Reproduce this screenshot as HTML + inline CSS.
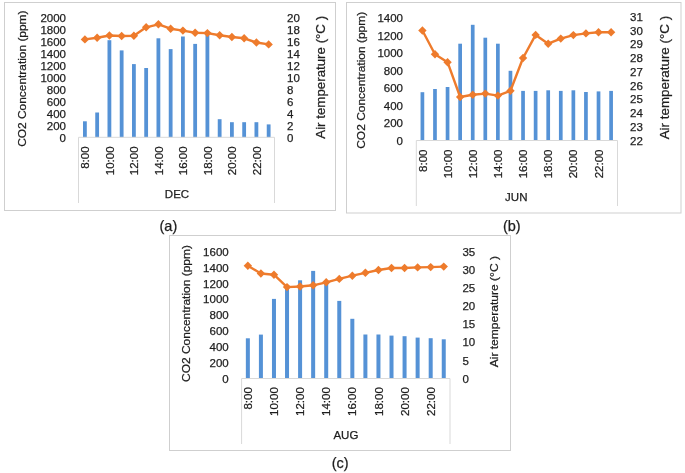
<!DOCTYPE html>
<html><head><meta charset="utf-8"><title>CO2 and temperature charts</title>
<style>
html,body{margin:0;padding:0;background:#fff;}
body{width:685px;height:473px;overflow:hidden;}
svg{display:block;will-change:transform;}
text{font-family:"Liberation Sans", sans-serif;fill:#1e1e1e;font-size:11.5px;stroke:#1e1e1e;stroke-width:0.25px;}
</style></head><body>
<svg width="685" height="473" viewBox="0 0 685 473">
<rect x="0" y="0" width="685" height="473" fill="#ffffff"/>
<rect x="4.5" y="2.5" width="331" height="208" fill="none" stroke="#cfcfcf" stroke-width="1"/>
<rect x="83" y="121.3" width="3.8" height="16" fill="#5592D6"/>
<rect x="95.25" y="112.5" width="3.8" height="24.8" fill="#5592D6"/>
<rect x="107.5" y="40.2" width="3.8" height="97.1" fill="#5592D6"/>
<rect x="119.75" y="50.4" width="3.8" height="86.9" fill="#5592D6"/>
<rect x="132" y="64.1" width="3.8" height="73.2" fill="#5592D6"/>
<rect x="144.25" y="68" width="3.8" height="69.3" fill="#5592D6"/>
<rect x="156.5" y="38.3" width="3.8" height="99" fill="#5592D6"/>
<rect x="168.75" y="49.1" width="3.8" height="88.2" fill="#5592D6"/>
<rect x="181" y="36.5" width="3.8" height="100.8" fill="#5592D6"/>
<rect x="193.25" y="43.9" width="3.8" height="93.4" fill="#5592D6"/>
<rect x="205.5" y="34.8" width="3.8" height="102.5" fill="#5592D6"/>
<rect x="217.75" y="119.2" width="3.8" height="18.1" fill="#5592D6"/>
<rect x="230" y="122.2" width="3.8" height="15.1" fill="#5592D6"/>
<rect x="242.25" y="122.2" width="3.8" height="15.1" fill="#5592D6"/>
<rect x="254.5" y="122.2" width="3.8" height="15.1" fill="#5592D6"/>
<rect x="266.75" y="124.4" width="3.8" height="12.9" fill="#5592D6"/>
<path d="M78.5 137.3H274.5M78.5 137.3V203M274.5 137.3V203" stroke="#d9d9d9" stroke-width="1" fill="none"/>
<path d="M84.9 39.4 L97.15 37.7 L109.4 35.5 L121.65 36 L133.9 35.7 L146.15 27.3 L158.4 24.3 L170.65 28.7 L182.9 30.6 L195.15 32.7 L207.4 33.1 L219.65 35.3 L231.9 37 L244.15 38.3 L256.4 42.5 L268.65 44.4" stroke="#EE7B2C" stroke-width="2.4" fill="none" stroke-linejoin="round" stroke-linecap="round"/>
<path d="M84.9 35.2L89.1 39.4L84.9 43.6L80.7 39.4Z" fill="#EE7B2C"/>
<path d="M97.15 33.5L101.35 37.7L97.15 41.9L92.95 37.7Z" fill="#EE7B2C"/>
<path d="M109.4 31.3L113.6 35.5L109.4 39.7L105.2 35.5Z" fill="#EE7B2C"/>
<path d="M121.65 31.8L125.85 36L121.65 40.2L117.45 36Z" fill="#EE7B2C"/>
<path d="M133.9 31.5L138.1 35.7L133.9 39.9L129.7 35.7Z" fill="#EE7B2C"/>
<path d="M146.15 23.1L150.35 27.3L146.15 31.5L141.95 27.3Z" fill="#EE7B2C"/>
<path d="M158.4 20.1L162.6 24.3L158.4 28.5L154.2 24.3Z" fill="#EE7B2C"/>
<path d="M170.65 24.5L174.85 28.7L170.65 32.9L166.45 28.7Z" fill="#EE7B2C"/>
<path d="M182.9 26.4L187.1 30.6L182.9 34.8L178.7 30.6Z" fill="#EE7B2C"/>
<path d="M195.15 28.5L199.35 32.7L195.15 36.9L190.95 32.7Z" fill="#EE7B2C"/>
<path d="M207.4 28.9L211.6 33.1L207.4 37.3L203.2 33.1Z" fill="#EE7B2C"/>
<path d="M219.65 31.1L223.85 35.3L219.65 39.5L215.45 35.3Z" fill="#EE7B2C"/>
<path d="M231.9 32.8L236.1 37L231.9 41.2L227.7 37Z" fill="#EE7B2C"/>
<path d="M244.15 34.1L248.35 38.3L244.15 42.5L239.95 38.3Z" fill="#EE7B2C"/>
<path d="M256.4 38.3L260.6 42.5L256.4 46.7L252.2 42.5Z" fill="#EE7B2C"/>
<path d="M268.65 40.2L272.85 44.4L268.65 48.6L264.45 44.4Z" fill="#EE7B2C"/>
<text x="66" y="141.82" text-anchor="end">0</text>
<text x="66" y="129.83" text-anchor="end">200</text>
<text x="66" y="117.84" text-anchor="end">400</text>
<text x="66" y="105.85" text-anchor="end">600</text>
<text x="66" y="93.86" text-anchor="end">800</text>
<text x="66" y="81.87" text-anchor="end">1000</text>
<text x="66" y="69.88" text-anchor="end">1200</text>
<text x="66" y="57.89" text-anchor="end">1400</text>
<text x="66" y="45.9" text-anchor="end">1600</text>
<text x="66" y="33.91" text-anchor="end">1800</text>
<text x="66" y="21.92" text-anchor="end">2000</text>
<text x="287" y="141.82">0</text>
<text x="287" y="129.83">2</text>
<text x="287" y="117.84">4</text>
<text x="287" y="105.85">6</text>
<text x="287" y="93.86">8</text>
<text x="287" y="81.87">10</text>
<text x="287" y="69.88">12</text>
<text x="287" y="57.89">14</text>
<text x="287" y="45.9">16</text>
<text x="287" y="33.91">18</text>
<text x="287" y="21.92">20</text>
<text transform="translate(26 146.8) rotate(-90)" x="0" y="0" style="font-size:11.6px" textLength="136.3" lengthAdjust="spacingAndGlyphs">CO2 Concentration (ppm)</text>
<text transform="translate(324.6 138.7) rotate(-90)" x="0" y="0" style="font-size:12.8px" textLength="122.8" lengthAdjust="spacingAndGlyphs">Air temperature (°C )</text>
<text transform="translate(89.02 146.4) rotate(-90)" x="0" y="0" text-anchor="end" style="font-size:11.5px">8:00</text>
<text transform="translate(113.52 146.4) rotate(-90)" x="0" y="0" text-anchor="end" style="font-size:11.5px">10:00</text>
<text transform="translate(138.02 146.4) rotate(-90)" x="0" y="0" text-anchor="end" style="font-size:11.5px">12:00</text>
<text transform="translate(162.52 146.4) rotate(-90)" x="0" y="0" text-anchor="end" style="font-size:11.5px">14:00</text>
<text transform="translate(187.02 146.4) rotate(-90)" x="0" y="0" text-anchor="end" style="font-size:11.5px">16:00</text>
<text transform="translate(211.52 146.4) rotate(-90)" x="0" y="0" text-anchor="end" style="font-size:11.5px">18:00</text>
<text transform="translate(236.02 146.4) rotate(-90)" x="0" y="0" text-anchor="end" style="font-size:11.5px">20:00</text>
<text transform="translate(260.52 146.4) rotate(-90)" x="0" y="0" text-anchor="end" style="font-size:11.5px">22:00</text>
<text x="177" y="198.1" text-anchor="middle" style="font-size:11.5px">DEC</text>
<rect x="346.5" y="2.5" width="334.5" height="210.5" fill="none" stroke="#cfcfcf" stroke-width="1"/>
<rect x="420.55" y="92.2" width="3.7" height="48.3" fill="#5592D6"/>
<rect x="433.13" y="89" width="3.7" height="51.5" fill="#5592D6"/>
<rect x="445.71" y="87" width="3.7" height="53.5" fill="#5592D6"/>
<rect x="458.29" y="43.7" width="3.7" height="96.8" fill="#5592D6"/>
<rect x="470.87" y="24.8" width="3.7" height="115.7" fill="#5592D6"/>
<rect x="483.45" y="37.7" width="3.7" height="102.8" fill="#5592D6"/>
<rect x="496.03" y="43.7" width="3.7" height="96.8" fill="#5592D6"/>
<rect x="508.61" y="70.8" width="3.7" height="69.7" fill="#5592D6"/>
<rect x="521.19" y="90.9" width="3.7" height="49.6" fill="#5592D6"/>
<rect x="533.77" y="90.9" width="3.7" height="49.6" fill="#5592D6"/>
<rect x="546.35" y="90.3" width="3.7" height="50.2" fill="#5592D6"/>
<rect x="558.93" y="90.9" width="3.7" height="49.6" fill="#5592D6"/>
<rect x="571.51" y="90.3" width="3.7" height="50.2" fill="#5592D6"/>
<rect x="584.09" y="92" width="3.7" height="48.5" fill="#5592D6"/>
<rect x="596.67" y="91.4" width="3.7" height="49.1" fill="#5592D6"/>
<rect x="609.25" y="90.9" width="3.7" height="49.6" fill="#5592D6"/>
<path d="M416.3 140.5H617.5M416.3 140.5V206M617.5 140.5V206" stroke="#d9d9d9" stroke-width="1" fill="none"/>
<path d="M422.4 30.5 L434.98 54.2 L447.56 62.2 L460.14 97 L472.72 94.7 L485.3 93.6 L497.88 95.6 L510.46 90.8 L523.04 58 L535.62 34.9 L548.2 43.7 L560.78 38.6 L573.36 35.1 L585.94 33.4 L598.52 32.3 L611.1 32.3" stroke="#EE7B2C" stroke-width="2.4" fill="none" stroke-linejoin="round" stroke-linecap="round"/>
<path d="M422.4 26.3L426.6 30.5L422.4 34.7L418.2 30.5Z" fill="#EE7B2C"/>
<path d="M434.98 50L439.18 54.2L434.98 58.4L430.78 54.2Z" fill="#EE7B2C"/>
<path d="M447.56 58L451.76 62.2L447.56 66.4L443.36 62.2Z" fill="#EE7B2C"/>
<path d="M460.14 92.8L464.34 97L460.14 101.2L455.94 97Z" fill="#EE7B2C"/>
<path d="M472.72 90.5L476.92 94.7L472.72 98.9L468.52 94.7Z" fill="#EE7B2C"/>
<path d="M485.3 89.4L489.5 93.6L485.3 97.8L481.1 93.6Z" fill="#EE7B2C"/>
<path d="M497.88 91.4L502.08 95.6L497.88 99.8L493.68 95.6Z" fill="#EE7B2C"/>
<path d="M510.46 86.6L514.66 90.8L510.46 95L506.26 90.8Z" fill="#EE7B2C"/>
<path d="M523.04 53.8L527.24 58L523.04 62.2L518.84 58Z" fill="#EE7B2C"/>
<path d="M535.62 30.7L539.82 34.9L535.62 39.1L531.42 34.9Z" fill="#EE7B2C"/>
<path d="M548.2 39.5L552.4 43.7L548.2 47.9L544 43.7Z" fill="#EE7B2C"/>
<path d="M560.78 34.4L564.98 38.6L560.78 42.8L556.58 38.6Z" fill="#EE7B2C"/>
<path d="M573.36 30.9L577.56 35.1L573.36 39.3L569.16 35.1Z" fill="#EE7B2C"/>
<path d="M585.94 29.2L590.14 33.4L585.94 37.6L581.74 33.4Z" fill="#EE7B2C"/>
<path d="M598.52 28.1L602.72 32.3L598.52 36.5L594.32 32.3Z" fill="#EE7B2C"/>
<path d="M611.1 28.1L615.3 32.3L611.1 36.5L606.9 32.3Z" fill="#EE7B2C"/>
<text x="403" y="144.72" text-anchor="end">0</text>
<text x="403" y="127.19" text-anchor="end">200</text>
<text x="403" y="109.66" text-anchor="end">400</text>
<text x="403" y="92.13" text-anchor="end">600</text>
<text x="403" y="74.6" text-anchor="end">800</text>
<text x="403" y="57.07" text-anchor="end">1000</text>
<text x="403" y="39.55" text-anchor="end">1200</text>
<text x="403" y="22.02" text-anchor="end">1400</text>
<text x="630" y="144.52">22</text>
<text x="630" y="130.79">23</text>
<text x="630" y="117.07">24</text>
<text x="630" y="103.35">25</text>
<text x="630" y="89.63">26</text>
<text x="630" y="75.91">27</text>
<text x="630" y="62.18">28</text>
<text x="630" y="48.46">29</text>
<text x="630" y="34.74">30</text>
<text x="630" y="21.02">31</text>
<text transform="translate(365.2 148.8) rotate(-90)" x="0" y="0" style="font-size:11.6px" textLength="137" lengthAdjust="spacingAndGlyphs">CO2 Concentration (ppm)</text>
<text transform="translate(669 139.3) rotate(-90)" x="0" y="0" style="font-size:12.8px" textLength="123.4" lengthAdjust="spacingAndGlyphs">Air temperature (°C )</text>
<text transform="translate(426.52 149.5) rotate(-90)" x="0" y="0" text-anchor="end" style="font-size:11.5px">8:00</text>
<text transform="translate(451.68 149.5) rotate(-90)" x="0" y="0" text-anchor="end" style="font-size:11.5px">10:00</text>
<text transform="translate(476.84 149.5) rotate(-90)" x="0" y="0" text-anchor="end" style="font-size:11.5px">12:00</text>
<text transform="translate(502 149.5) rotate(-90)" x="0" y="0" text-anchor="end" style="font-size:11.5px">14:00</text>
<text transform="translate(527.16 149.5) rotate(-90)" x="0" y="0" text-anchor="end" style="font-size:11.5px">16:00</text>
<text transform="translate(552.32 149.5) rotate(-90)" x="0" y="0" text-anchor="end" style="font-size:11.5px">18:00</text>
<text transform="translate(577.48 149.5) rotate(-90)" x="0" y="0" text-anchor="end" style="font-size:11.5px">20:00</text>
<text transform="translate(602.64 149.5) rotate(-90)" x="0" y="0" text-anchor="end" style="font-size:11.5px">22:00</text>
<text x="516.3" y="201.1" text-anchor="middle" style="font-size:11.5px">JUN</text>
<rect x="169.5" y="235.5" width="341" height="215" fill="none" stroke="#cfcfcf" stroke-width="1"/>
<rect x="245.85" y="338.3" width="4" height="40.2" fill="#5592D6"/>
<rect x="258.91" y="334.6" width="4" height="43.9" fill="#5592D6"/>
<rect x="271.97" y="298.9" width="4" height="79.6" fill="#5592D6"/>
<rect x="285.03" y="287.3" width="4" height="91.2" fill="#5592D6"/>
<rect x="298.09" y="280.3" width="4" height="98.2" fill="#5592D6"/>
<rect x="311.15" y="270.9" width="4" height="107.6" fill="#5592D6"/>
<rect x="324.21" y="283.4" width="4" height="95.1" fill="#5592D6"/>
<rect x="337.27" y="300.9" width="4" height="77.6" fill="#5592D6"/>
<rect x="350.33" y="318.8" width="4" height="59.7" fill="#5592D6"/>
<rect x="363.39" y="334.5" width="4" height="44" fill="#5592D6"/>
<rect x="376.45" y="334.5" width="4" height="44" fill="#5592D6"/>
<rect x="389.51" y="335.6" width="4" height="42.9" fill="#5592D6"/>
<rect x="402.57" y="336.2" width="4" height="42.3" fill="#5592D6"/>
<rect x="415.63" y="337.6" width="4" height="40.9" fill="#5592D6"/>
<rect x="428.69" y="338.2" width="4" height="40.3" fill="#5592D6"/>
<rect x="441.75" y="339.3" width="4" height="39.2" fill="#5592D6"/>
<path d="M241.6 378.5H450M241.6 378.5V444M450 378.5V444" stroke="#d9d9d9" stroke-width="1" fill="none"/>
<path d="M247.85 265.7 L260.91 273.5 L273.97 274.7 L287.03 287.1 L300.09 286.5 L313.15 285.3 L326.21 282.3 L339.27 278.9 L352.33 275.7 L365.39 272.8 L378.45 270 L391.51 268 L404.57 268 L417.63 267.4 L430.69 267.1 L443.75 266.6" stroke="#EE7B2C" stroke-width="2.4" fill="none" stroke-linejoin="round" stroke-linecap="round"/>
<path d="M247.85 261.5L252.05 265.7L247.85 269.9L243.65 265.7Z" fill="#EE7B2C"/>
<path d="M260.91 269.3L265.11 273.5L260.91 277.7L256.71 273.5Z" fill="#EE7B2C"/>
<path d="M273.97 270.5L278.17 274.7L273.97 278.9L269.77 274.7Z" fill="#EE7B2C"/>
<path d="M287.03 282.9L291.23 287.1L287.03 291.3L282.83 287.1Z" fill="#EE7B2C"/>
<path d="M300.09 282.3L304.29 286.5L300.09 290.7L295.89 286.5Z" fill="#EE7B2C"/>
<path d="M313.15 281.1L317.35 285.3L313.15 289.5L308.95 285.3Z" fill="#EE7B2C"/>
<path d="M326.21 278.1L330.41 282.3L326.21 286.5L322.01 282.3Z" fill="#EE7B2C"/>
<path d="M339.27 274.7L343.47 278.9L339.27 283.1L335.07 278.9Z" fill="#EE7B2C"/>
<path d="M352.33 271.5L356.53 275.7L352.33 279.9L348.13 275.7Z" fill="#EE7B2C"/>
<path d="M365.39 268.6L369.59 272.8L365.39 277L361.19 272.8Z" fill="#EE7B2C"/>
<path d="M378.45 265.8L382.65 270L378.45 274.2L374.25 270Z" fill="#EE7B2C"/>
<path d="M391.51 263.8L395.71 268L391.51 272.2L387.31 268Z" fill="#EE7B2C"/>
<path d="M404.57 263.8L408.77 268L404.57 272.2L400.37 268Z" fill="#EE7B2C"/>
<path d="M417.63 263.2L421.83 267.4L417.63 271.6L413.43 267.4Z" fill="#EE7B2C"/>
<path d="M430.69 262.9L434.89 267.1L430.69 271.3L426.49 267.1Z" fill="#EE7B2C"/>
<path d="M443.75 262.4L447.95 266.6L443.75 270.8L439.55 266.6Z" fill="#EE7B2C"/>
<text x="228.7" y="382.72" text-anchor="end">0</text>
<text x="228.7" y="366.85" text-anchor="end">200</text>
<text x="228.7" y="350.99" text-anchor="end">400</text>
<text x="228.7" y="335.13" text-anchor="end">600</text>
<text x="228.7" y="319.27" text-anchor="end">800</text>
<text x="228.7" y="303.4" text-anchor="end">1000</text>
<text x="228.7" y="287.54" text-anchor="end">1200</text>
<text x="228.7" y="271.68" text-anchor="end">1400</text>
<text x="228.7" y="255.82" text-anchor="end">1600</text>
<text x="462.4" y="382.72">0</text>
<text x="462.4" y="364.6">5</text>
<text x="462.4" y="346.49">10</text>
<text x="462.4" y="328.37">15</text>
<text x="462.4" y="310.26">20</text>
<text x="462.4" y="292.15">25</text>
<text x="462.4" y="274.03">30</text>
<text x="462.4" y="255.92">35</text>
<text transform="translate(189.6 381.9) rotate(-90)" x="0" y="0" style="font-size:11.6px" textLength="136.8" lengthAdjust="spacingAndGlyphs">CO2 Concentration (ppm)</text>
<text transform="translate(497.8 367.3) rotate(-90)" x="0" y="0" style="font-size:11.6px" textLength="111.3" lengthAdjust="spacingAndGlyphs">Air temperature (°C )</text>
<text transform="translate(251.97 387.2) rotate(-90)" x="0" y="0" text-anchor="end" style="font-size:11.5px">8:00</text>
<text transform="translate(278.09 387.2) rotate(-90)" x="0" y="0" text-anchor="end" style="font-size:11.5px">10:00</text>
<text transform="translate(304.21 387.2) rotate(-90)" x="0" y="0" text-anchor="end" style="font-size:11.5px">12:00</text>
<text transform="translate(330.33 387.2) rotate(-90)" x="0" y="0" text-anchor="end" style="font-size:11.5px">14:00</text>
<text transform="translate(356.45 387.2) rotate(-90)" x="0" y="0" text-anchor="end" style="font-size:11.5px">16:00</text>
<text transform="translate(382.57 387.2) rotate(-90)" x="0" y="0" text-anchor="end" style="font-size:11.5px">18:00</text>
<text transform="translate(408.69 387.2) rotate(-90)" x="0" y="0" text-anchor="end" style="font-size:11.5px">20:00</text>
<text transform="translate(434.81 387.2) rotate(-90)" x="0" y="0" text-anchor="end" style="font-size:11.5px">22:00</text>
<text x="345.9" y="438.8" text-anchor="middle" style="font-size:11.5px">AUG</text>
<text x="168.4" y="230.9" text-anchor="middle" style="font-size:14.5px">(a)</text>
<text x="511.8" y="230.9" text-anchor="middle" style="font-size:14.5px">(b)</text>
<text x="340.2" y="468.3" text-anchor="middle" style="font-size:14.5px">(c)</text>
</svg>
</body></html>
